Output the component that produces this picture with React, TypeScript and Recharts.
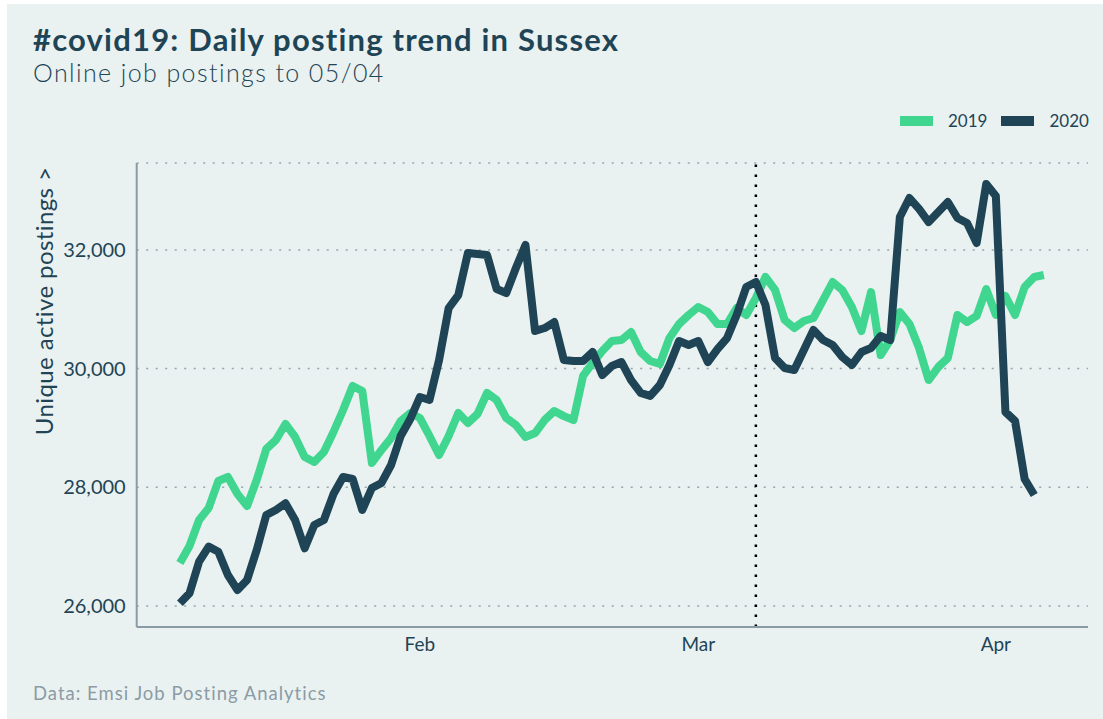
import React from 'react';
import { LineChart, Line, XAxis, YAxis, CartesianGrid, ReferenceLine } from 'recharts';

// day index 0 = 7 Jan; one point per day
const tickDays = [25, 54, 85];
const tickLabels = ['Feb', 'Mar', 'Apr'];
const lockdownDay = 60;
const yTicks = [26000, 28000, 30000, 32000];

const postings2019 = [
  26725, 27011, 27449, 27651, 28106, 28174, 27887, 27685, 28123, 28645,
  28797, 29067, 28848, 28511, 28426, 28595, 28932, 29303, 29707, 29623,
  28410, 28629, 28831, 29117, 29252, 29168, 28865, 28544, 28865, 29252,
  29084, 29235, 29589, 29471, 29168, 29050, 28848, 28915, 29134, 29286,
  29200, 29134, 29876, 30095, 30297, 30465, 30482, 30617, 30280, 30128,
  30078, 30516, 30752, 30904, 31039, 30954, 30752, 30752, 31021, 30904,
  31190, 31544, 31325, 30820, 30684, 30802, 30853, 31156, 31459, 31325,
  31039, 30634, 31291, 30229, 30482, 30954, 30752, 30347, 29808, 30027,
  30179, 30904, 30785, 30887, 31341, 30904, 31224, 30904, 31375, 31544,
  31578,
];

const postings2020 = [
  26045, 26214, 26747, 27000, 26915, 26522, 26270, 26438, 26944, 27533,
  27618, 27730, 27449, 26972, 27365, 27449, 27887, 28174, 28140, 27618,
  27988, 28073, 28376, 28865, 29151, 29522, 29471, 30145, 31021, 31240,
  31948, 31931, 31914, 31341, 31274, 31695, 32083, 30634, 30684, 30785,
  30145, 30128, 30128, 30280, 29892, 30044, 30111, 29808, 29590, 29540,
  29724, 30061, 30465, 30398, 30465, 30111, 30330, 30516, 30904, 31375,
  31459, 31071, 30179, 30010, 29977, 30314, 30651, 30482, 30398, 30196,
  30061, 30280, 30347, 30550, 30482, 32555, 32875, 32690, 32470, 32639,
  32807, 32538, 32454, 32117, 33111, 32909, 29269, 29117, 28140, 27870,
];

const GREEN = '#40D690';
const NAVY = '#1F4455';
const FONT = 'Lato, "Open Sans", sans-serif';

const data = postings2019.map((v, i) => ({
  day: i,
  y2019: v,
  y2020: i < postings2020.length ? postings2020[i] : undefined,
}));

const legend = [
  { label: '2019', color: GREEN },
  { label: '2020', color: NAVY },
];

export default function App() {
  return (
    <div style={{ position: 'fixed', left: 0, top: 0, width: 1103, height: 719, background: '#fff' }}>
      <div style={{ position: 'absolute', left: 7, top: 4, width: 1096, height: 715, background: '#E9F2F1', fontFamily: FONT, color: NAVY }}>
        <div style={{ position: 'absolute', left: 26, top: 20, fontSize: 31, lineHeight: 1, fontWeight: 700, letterSpacing: 1.2, whiteSpace: 'nowrap' }}>
          #covid19: Daily posting trend in Sussex
        </div>
        <div style={{ position: 'absolute', left: 26, top: 56, fontSize: 25, lineHeight: 1, fontWeight: 300, letterSpacing: 1.4, whiteSpace: 'nowrap' }}>
          Online job postings to 05/04
        </div>

        <div style={{ position: 'absolute', left: 893, top: 106, display: 'flex', alignItems: 'center', fontSize: 17, whiteSpace: 'nowrap' }}>
          {legend.map((l) => (
            <div key={l.label} style={{ display: 'flex', alignItems: 'center', marginRight: 14 }}>
              <div style={{ width: 33, height: 10, background: l.color, marginRight: 15 }} />
              <span>{l.label}</span>
            </div>
          ))}
        </div>

        <div style={{ position: 'absolute', left: 36, top: 297, transform: 'translate(-50%, -50%) rotate(-90deg)', fontSize: 24, letterSpacing: 0.4, whiteSpace: 'nowrap' }}>
          Unique active postings &gt;
        </div>

        <div style={{ position: 'absolute', left: 26, top: 678, fontSize: 18.5, letterSpacing: 1, color: '#8C9BA5', whiteSpace: 'nowrap' }}>
          Data: Emsi Job Posting Analytics
        </div>

        <div style={{ position: 'absolute', left: 0, top: 0 }}>
          <LineChart width={1096} height={715} data={data} margin={{ top: 159, right: 15, bottom: 62, left: 10 }}>
            <CartesianGrid horizontal vertical={false} stroke="#98A4AD" strokeDasharray="2 7.5" strokeWidth={1.5} />
            <XAxis
              dataKey="day"
              type="number"
              height={30}
              domain={[-4.5, 94.6]}
              ticks={tickDays}
              tickFormatter={(v: number) => tickLabels[tickDays.indexOf(v)] ?? ''}
              tickLine={false}
              tickMargin={5}
              axisLine={{ stroke: '#8A9BA6', strokeWidth: 2 }}
              tick={{ fill: NAVY, fontSize: 19, fontFamily: FONT }}
            />
            <YAxis
              type="number"
              width={119.7}
              domain={[25646, 33465]}
              ticks={yTicks}
              allowDataOverflow
              tickFormatter={(v: number) => v.toLocaleString('en-US')}
              tickLine={false}
              tickMargin={5}
              axisLine={{ stroke: '#8A9BA6', strokeWidth: 2 }}
              tick={{ fill: NAVY, fontSize: 20, fontFamily: FONT }}
            />
            <ReferenceLine x={lockdownDay} stroke="#000" strokeWidth={2.5} strokeDasharray="2.5 7.5" />
            <Line type="linear" dataKey="y2019" stroke={GREEN} strokeWidth={8} dot={false} isAnimationActive={false} strokeLinejoin="round" />
            <Line type="linear" dataKey="y2020" stroke={NAVY} strokeWidth={8} dot={false} isAnimationActive={false} strokeLinejoin="round" />
          </LineChart>
        </div>
      </div>
    </div>
  );
}
